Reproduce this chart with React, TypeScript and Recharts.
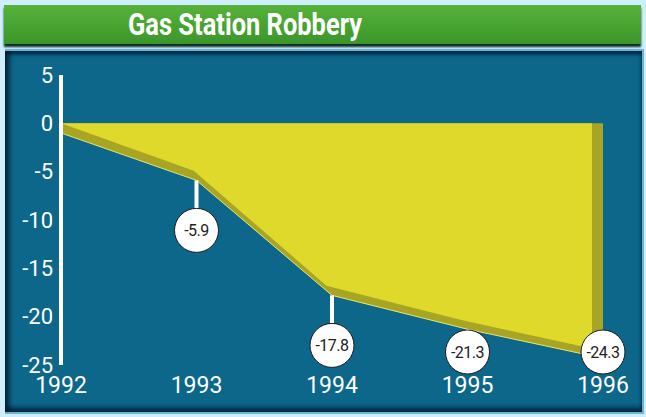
import React from 'react';
import { AreaChart, Area, XAxis, YAxis, LabelList } from 'recharts';

const years = ['1992', '1993', '1994', '1995', '1996'];
const change = [-1, -5.9, -17.8, -21.3, -24.3];
const pointLabels = ['', '-5.9', '-17.8', '-21.3', '-24.3'];
const yTicks = [5, 0, -5, -10, -15, -20, -25];
const title = 'Gas Station Robbery';

const data = years.map((y, i) => ({ year: y, value: change[i], label: pointLabels[i] }));

const BUBBLE_FLOOR = 352;
const FONT = 'Roboto, "DejaVu Sans", sans-serif';

const Bubble = (props: any) => {
  const x = props.x ?? props.viewBox?.x;
  const y = props.y ?? props.viewBox?.y;
  const { value } = props;
  if (!value || x == null || y == null) return null;
  const cy = Math.min(y + 50, BUBBLE_FLOOR);
  return (
    <g>
      <line x1={x} y1={y} x2={x} y2={cy} stroke="#ffffff" strokeWidth={4} />
      <circle cx={x} cy={cy} r={22} fill="#ffffff" stroke="#1a1a1a" strokeWidth={1} />
      <text x={x} y={cy + 5.5} textAnchor="middle" fontSize={16} fill="#222" fontFamily={FONT} letterSpacing={-0.5}>
        {value}
      </text>
    </g>
  );
};

export default function App() {
  return (
    <div style={{ position: 'absolute', left: 0, top: 0, width: 646, height: 417, background: '#cdeefa', overflow: 'hidden' }}>
      <div
        style={{
          position: 'absolute', left: 4, top: 5, width: 637, height: 39,
          background: 'linear-gradient(#56b23a, #3b962a)',
          boxShadow: '0 3px 2px #0d2a22',
        }}
      />
      <svg style={{ position: 'absolute', left: 0, top: 0 }} width={646} height={50}>
        <text x={128} y={35} fontSize={31} fontWeight="bold" fill="#ffffff" fontFamily={FONT}
          textLength={234} lengthAdjust="spacingAndGlyphs">{title}</text>
      </svg>
      <div
        style={{
          position: 'absolute', left: 5, top: 49, width: 637, height: 361,
          background: '#0c678a',
          borderTop: '2px solid #6cb4d4',
          borderRight: '2px solid #6cb4d4',
          borderBottom: '2px solid #6cb4d4',
          boxShadow: 'inset 5px 0 4px rgba(0,10,30,0.55), inset 0 -5px 4px rgba(0,10,30,0.55), inset 0 4px 3px rgba(0,10,30,0.5)',
        }}
      />
      <div style={{ position: 'absolute', left: 0, top: 0 }}>
        <AreaChart width={646} height={417} data={data} margin={{ top: 75, right: 43, bottom: 12, left: 0 }}>
          <XAxis dataKey="year" axisLine={false} tickLine={false} tickSize={0} tickMargin={12}
            tick={{ fill: '#ffffff', fontSize: 23, fontFamily: FONT }} height={40} interval={0} />
          <XAxis dataKey="year" xAxisId="face" hide padding={{ left: 0, right: 11 }} />
          <YAxis domain={[-25, 5]} ticks={yTicks} width={61} type="number"
            axisLine={{ stroke: '#ffffff', strokeWidth: 4 }} tickLine={false} tickSize={0} tickMargin={8}
            tick={{ fill: '#ffffff', fontSize: 22, fontFamily: FONT }} interval={0} allowDataOverflow />
          <YAxis yAxisId="face" hide domain={[-26, 4]} type="number" allowDataOverflow />
          <Area dataKey="value" baseValue={0} type="linear"
            fill="#a9a524" fillOpacity={1} stroke="#e8e46a" strokeWidth={1} isAnimationActive={false} />
          <Area xAxisId="face" yAxisId="face" dataKey="value" baseValue={-1} type="linear"
            fill="#dfd92b" fillOpacity={1} stroke="none" isAnimationActive={false} />
          <Area dataKey="value" baseValue={0} type="linear"
            fill="none" fillOpacity={0} stroke="none" isAnimationActive={false}>
            <LabelList dataKey="label" content={<Bubble />} />
          </Area>
        </AreaChart>
      </div>
    </div>
  );
}
